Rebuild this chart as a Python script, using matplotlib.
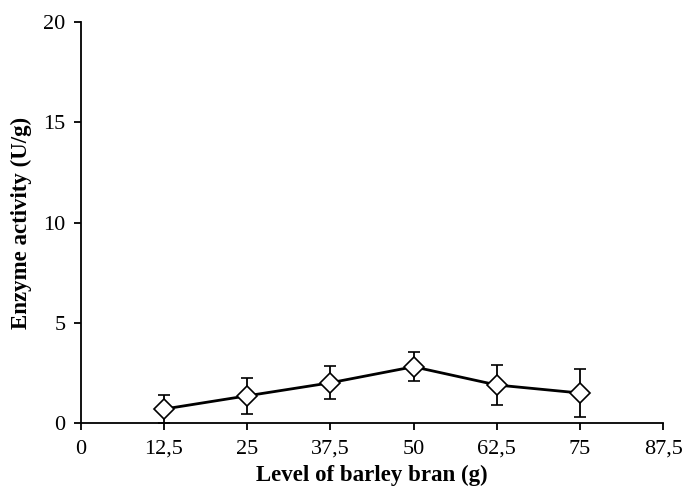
import matplotlib

matplotlib.use("Agg")
import matplotlib.pyplot as plt

# barley bran level (g) vs enzyme activity (U/g)
levels = [12.5, 25, 37.5, 50, 62.5, 75]
activity = [0.70, 1.36, 2.01, 2.81, 1.90, 1.50]
errors = [0.68, 0.90, 0.82, 0.72, 1.00, 1.20]
x_ticks = [0, 12.5, 25, 37.5, 50, 62.5, 75, 87.5]
x_labels = ["0", "12,5", "25", "37,5", "50", "62,5", "75", "87,5"]
y_ticks = [0, 5, 10, 15, 20]

plt.rcParams["font.family"] = ["Liberation Serif", "DejaVu Serif"]

fig = plt.figure(figsize=(6.85, 4.88), dpi=100)
ax = fig.add_axes([0.118, 0.133, 0.850, 0.822])

ax.errorbar(levels, activity, yerr=errors, color="black", linewidth=2,
            elinewidth=1.3, capsize=4, capthick=1.3, marker="D", markersize=10,
            markerfacecolor="white", markeredgecolor="black", markeredgewidth=1.2,
            zorder=3)

ax.set_xlim(0, 87.5)
ax.set_ylim(0, 20)
ax.set_xticks(x_ticks)
ax.set_xticklabels(x_labels)
ax.set_yticks(y_ticks)
ax.tick_params(axis="both", labelsize=16, direction="out", length=5, width=1.3)
ax.tick_params(axis="x", pad=7)
ax.tick_params(axis="y", pad=6)
for side in ("top", "right"):
    ax.spines[side].set_visible(False)
for side in ("left", "bottom"):
    ax.spines[side].set_linewidth(1.3)

ax.set_xlabel("Level of barley bran (g)", fontsize=16.5, fontweight="bold", labelpad=4)
ax.set_ylabel("Enzyme activity (U/g)", fontsize=16.5, fontweight="bold", labelpad=8)

fig.savefig("out.png", dpi=100)
